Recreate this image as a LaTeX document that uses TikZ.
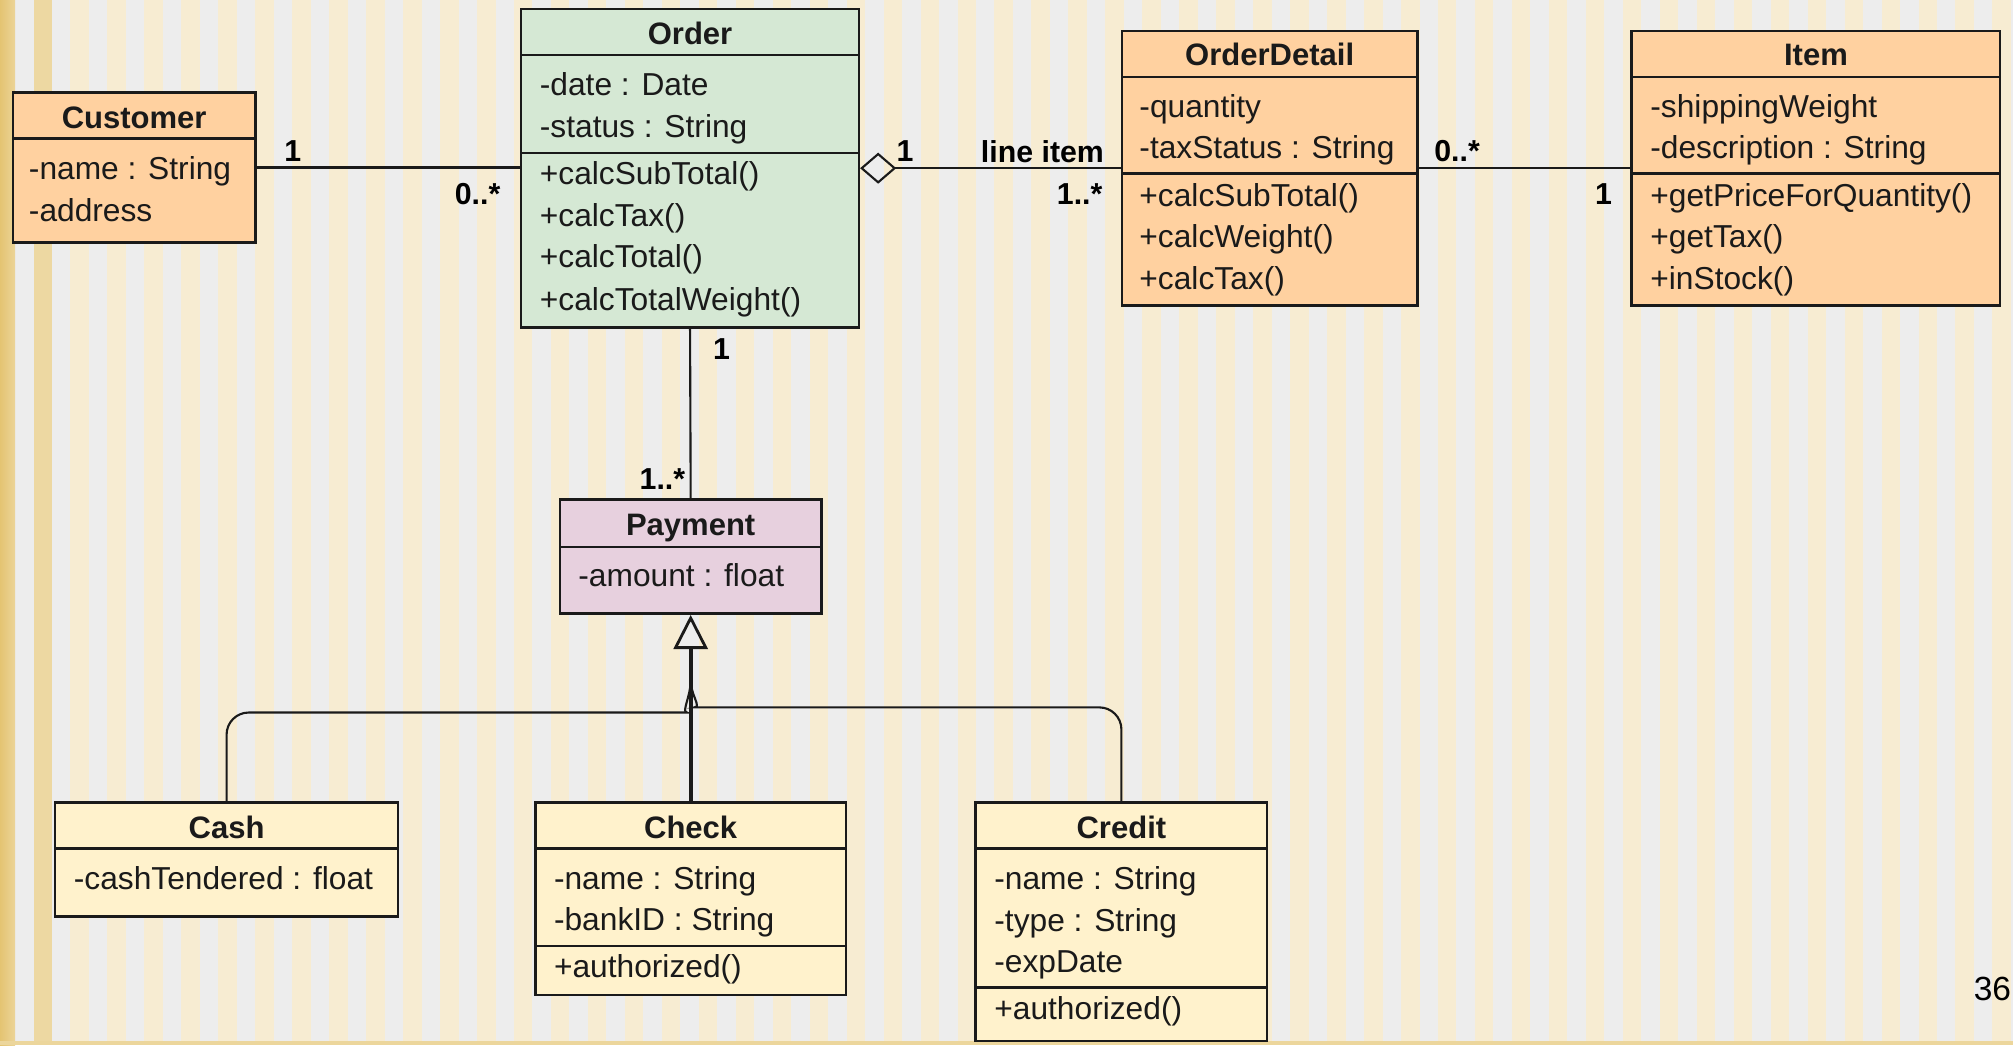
\documentclass[tikz,border=0pt]{standalone}
\usepackage{fontspec}
\setmainfont{Liberation Sans}
\usepackage{tikz}
\usetikzlibrary{positioning, arrows.meta, fit}
\usepackage{xcolor}
\definecolor{BoxLine}{HTML}{1A1A1A}
\definecolor{Peach}{HTML}{FFD1A0}
\definecolor{MintBg}{HTML}{D5E8D4}
\definecolor{MauveBg}{HTML}{E7D0DE}
\definecolor{CreamBg}{HTML}{FFF2CC}
\definecolor{Stripe}{HTML}{F7ECD2}
\definecolor{StripeGray}{HTML}{EDEDED}
\definecolor{Gold}{HTML}{E4C472}

\tikzset{
  classbox/.style={draw=BoxLine, line width=0.7pt, inner sep=0pt},
  classname/.style={font=\fontsize{8.8}{10}\selectfont\bfseries, text=BoxLine, inner sep=0pt, text height=0.78em, text depth=0.05em},
  member/.style={anchor=west, text=BoxLine, inner sep=0pt, text height=0.76em, text depth=0.07em},
  mult/.style={font=\fontsize{8.6}{10}\selectfont\bfseries, inner sep=0pt},
  assoc/.style={draw=BoxLine, line width=0.6pt},
}

\begin{document}
\begin{tikzpicture}[x=0.0128cm, y=-0.0128cm, font=\fontsize{9}{11}\selectfont]
            \useasboundingbox (0,0) rectangle (1568,814);
            \fill[Stripe] (0,0) rectangle (1568,814);
            \foreach \k in {0,...,54}
                \fill[StripeGray] ({11.7+28.79*\k},0) rectangle ++(14.4,814);
            \fill[left color=Gold, right color=Gold!60!Stripe] (0,0) rectangle (11.7,814);
            \fill[Gold!50!Stripe] (26.1,0) rectangle (40.5,814);
            \fill[Gold!70] (0,811) rectangle (1568,814);

            % classes
            \node[classbox, fill=Peach, fit={(10,72) (199,189)}] (customer) {};
            \draw[classbox] (10,108) -- (199,108);
            \node[classname] (customer-name) at (104.5,90) {Customer};
            \node[member] (customer-a1) at (22,130) {-name : String};
            \node[member] (customer-a2) at (22,163) {-address};

            \node[classbox, fill=MintBg, fit={(406,7) (669,255)}] (order) {};
            \draw[classbox] (406,43) -- (669,43);
            \draw[classbox] (406,119) -- (669,119);
            \node[classname] (order-name) at (537.5,25) {Order};
            \node[member] (order-a1) at (420,65) {-date : Date};
            \node[member] (order-a2) at (420,98) {-status : String};
            \node[member] (order-m1) at (420,134) {+calcSubTotal()};
            \node[member] (order-m2) at (420,167) {+calcTax()};
            \node[member] (order-m3) at (420,199) {+calcTotal()};
            \node[member] (order-m4) at (420,232) {+calcTotalWeight()};

            \node[classbox, fill=Peach, fit={(874,24) (1104,238)}] (detail) {};
            \draw[classbox] (874,60) -- (1104,60);
            \draw[classbox] (874,135) -- (1104,135);
            \node[classname] (detail-name) at (989,41) {OrderDetail};
            \node[member] (detail-a1) at (887,82) {-quantity};
            \node[member] (detail-a2) at (887,114) {-taxStatus : String};
            \node[member] (detail-m1) at (887,151) {+calcSubTotal()};
            \node[member] (detail-m2) at (887,183) {+calcWeight()};
            \node[member] (detail-m3) at (887,216) {+calcTax()};

            \node[classbox, fill=Peach, fit={(1271,24) (1558,238)}] (item) {};
            \draw[classbox] (1271,60) -- (1558,60);
            \draw[classbox] (1271,135) -- (1558,135);
            \node[classname] (item-name) at (1414.5,41) {Item};
            \node[member] (item-a1) at (1285,82) {-shippingWeight};
            \node[member] (item-a2) at (1285,114) {-description : String};
            \node[member] (item-m1) at (1285,151) {+getPriceForQuantity()};
            \node[member] (item-m2) at (1285,183) {+getTax()};
            \node[member] (item-m3) at (1285,216) {+inStock()};

            \node[classbox, fill=MauveBg, fit={(436,389) (640,478)}] (payment) {};
            \draw[classbox] (436,426) -- (640,426);
            \node[classname] (payment-name) at (538,407) {Payment};
            \node[member] (payment-a1) at (450,447) {-amount : float};

            \node[classbox, fill=CreamBg, fit={(43,625) (310,714)}] (cash) {};
            \draw[classbox] (43,661) -- (310,661);
            \node[classname] (cash-name) at (176.5,643) {Cash};
            \node[member] (cash-a1) at (57,683) {-cashTendered : float};

            \node[classbox, fill=CreamBg, fit={(417,625) (659,775)}] (check) {};
            \draw[classbox] (417,661) -- (659,661);
            \draw[classbox] (417,737) -- (659,737);
            \node[classname] (check-name) at (538,643) {Check};
            \node[member] (check-a1) at (431,683) {-name : String};
            \node[member] (check-a2) at (431,715) {-bankID : String};
            \node[member] (check-m1) at (431,752) {+authorized()};

            \node[classbox, fill=CreamBg, fit={(760,625) (987,811)}] (credit) {};
            \draw[classbox] (760,661) -- (987,661);
            \draw[classbox] (760,769) -- (987,769);
            \node[classname] (credit-name) at (873.5,643) {Credit};
            \node[member] (credit-a1) at (774,683) {-name : String};
            \node[member] (credit-a2) at (774,716) {-type : String};
            \node[member] (credit-a3) at (774,748) {-expDate};
            \node[member] (credit-m1) at (774,785) {+authorized()};

            % associations
            \draw[assoc] (customer.east) -- (customer.east -| order.west);
            \draw[assoc, {Diamond[open, length=3.6mm, width=3.1mm, line width=0.6pt]}-] (order.east) -- (detail.west);
            \draw[assoc] (detail.east) -- (item.west);
            \draw[assoc] (order.south) -- (payment.north);

            \node[mult] (m-cust) at (228,118) {1};
            \node[mult] (m-cust-order) at (372,151) {0..*};
            \node[mult] (m-order) at (705,118) {1};
            \node[mult] (role-line) at (812,118) {line item};
            \node[mult] (m-detail) at (841,151) {1..*};
            \node[mult] (m-detail-item) at (1135,118) {0..*};
            \node[mult] (m-item) at (1249,151) {1};
            \node[mult] (m-order-pay) at (562,272) {1};
            \node[mult] (m-pay) at (516,373) {1..*};

            % generalization
            \draw[draw=BoxLine, line width=1.1pt, -{Triangle[open, length=3.4mm, width=3.4mm, line width=0.8pt]}] (check.north) -- (payment.south);
            \coordinate (merge) at (538,530);
            \draw[assoc, rounded corners=2.2mm] (cash.north) |- (518,555) to[out=0, in=-90] (merge);
            \draw[assoc, rounded corners=2.2mm] (credit.north) |- (558,551) to[out=180, in=-90] (merge);

            \node[anchor=east, inner sep=0pt, font=\fontsize{9.5}{11}\selectfont] (page-no) at (1567,770) {36};
        \end{tikzpicture}
\end{document}
